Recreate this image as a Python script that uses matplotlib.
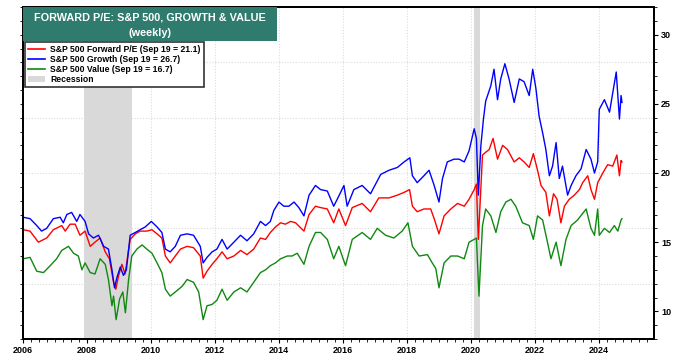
import matplotlib
matplotlib.use("Agg")
import matplotlib.pyplot as plt
from matplotlib.patches import Patch
from matplotlib.lines import Line2D
from matplotlib.ticker import MultipleLocator

plt.rcParams["font.family"] = ["Liberation Sans", "DejaVu Sans"]

sp_dates = [2006.01, 2006.22, 2006.48, 2006.74, 2006.95, 2007.21, 2007.32, 2007.47, 2007.63,
            2007.78, 2007.94, 2008.10, 2008.25, 2008.41, 2008.57, 2008.70, 2008.83, 2008.90,
            2008.99, 2009.09, 2009.19, 2009.35, 2009.51, 2009.66, 2009.87, 2010.03, 2010.19,
            2010.34, 2010.45, 2010.60, 2010.76, 2010.92, 2011.13, 2011.33, 2011.54, 2011.63,
            2011.75, 2011.91, 2012.06, 2012.22, 2012.38, 2012.59, 2012.80, 2013.00, 2013.21,
            2013.42, 2013.58, 2013.73, 2013.89, 2014.05, 2014.20, 2014.36, 2014.52, 2014.78,
            2014.94, 2015.14, 2015.30, 2015.51, 2015.71, 2015.87, 2016.08, 2016.29, 2016.60,
            2016.86, 2017.12, 2017.44, 2017.70, 2017.91, 2018.08, 2018.17, 2018.32, 2018.53,
            2018.74, 2018.85, 2019.00, 2019.16, 2019.37, 2019.58, 2019.79, 2019.94, 2020.10,
            2020.17, 2020.23, 2020.36, 2020.46, 2020.57, 2020.69, 2020.83, 2020.99, 2021.14,
            2021.35, 2021.51, 2021.66, 2021.82, 2021.95, 2022.08, 2022.19, 2022.34, 2022.45,
            2022.58, 2022.69, 2022.81, 2022.92, 2023.07, 2023.23, 2023.39, 2023.49, 2023.65,
            2023.75, 2023.86, 2023.96, 2024.12, 2024.27, 2024.43, 2024.56, 2024.64, 2024.69,
            2024.72]
sp_pe = [15.9, 15.8, 15.0, 15.3, 15.9, 16.2, 15.8, 16.3, 16.3,
         15.5, 15.8, 14.7, 15.0, 15.3, 14.3, 13.8, 12.1, 11.6,
         12.6, 13.4, 12.7, 15.2, 15.6, 15.8, 15.8, 15.9, 15.6,
         15.3, 14.0, 13.5, 14.0, 14.5, 14.7, 14.6, 14.0, 12.4,
         12.9, 13.4, 13.8, 14.3, 13.8, 14.0, 14.4, 14.1, 14.5,
         15.3, 15.2, 15.7, 16.1, 16.4, 16.3, 16.5, 16.4, 15.8,
         17.0, 17.6, 17.5, 17.4, 16.4, 17.4, 16.2, 17.5, 17.8,
         17.2, 18.2, 18.2, 18.4, 18.6, 18.8, 17.6, 17.2, 17.4,
         17.4, 16.7, 15.6, 16.9, 17.4, 17.8, 17.6, 18.1, 18.8,
         19.2, 15.2, 21.3, 21.5, 21.7, 22.5, 21.0, 22.0, 21.7,
         20.8, 21.1, 20.8, 20.4, 21.4, 20.2, 19.1, 18.6, 16.9,
         18.5, 18.1, 16.4, 17.6, 18.1, 18.4, 18.8, 19.3, 19.8,
         18.8, 18.1, 19.3, 20.0, 20.6, 20.5, 21.3, 19.8, 20.9,
         20.8]

growth_dates = [2006.01, 2006.22, 2006.43, 2006.58, 2006.74, 2006.95, 2007.16, 2007.26, 2007.37,
                2007.52, 2007.68, 2007.78, 2007.94, 2008.05, 2008.20, 2008.36, 2008.52, 2008.67,
                2008.78, 2008.86, 2008.93, 2009.04, 2009.14, 2009.23, 2009.35, 2009.51, 2009.66,
                2009.82, 2010.01, 2010.19, 2010.34, 2010.45, 2010.60, 2010.76, 2010.92, 2011.13,
                2011.33, 2011.54, 2011.63, 2011.75, 2011.91, 2012.06, 2012.22, 2012.38, 2012.59,
                2012.80, 2013.00, 2013.21, 2013.42, 2013.58, 2013.73, 2013.84, 2014.00, 2014.15,
                2014.31, 2014.47, 2014.62, 2014.78, 2014.94, 2015.14, 2015.30, 2015.51, 2015.71,
                2015.82, 2016.03, 2016.13, 2016.34, 2016.60, 2016.86, 2017.18, 2017.44, 2017.70,
                2017.91, 2018.09, 2018.17, 2018.32, 2018.53, 2018.69, 2018.85, 2019.00, 2019.11,
                2019.26, 2019.47, 2019.63, 2019.79, 2019.94, 2020.10, 2020.17, 2020.23, 2020.31,
                2020.39, 2020.46, 2020.62, 2020.72, 2020.83, 2020.93, 2021.06, 2021.19, 2021.35,
                2021.51, 2021.66, 2021.82, 2021.93, 2022.03, 2022.13, 2022.24, 2022.34, 2022.45,
                2022.55, 2022.66, 2022.76, 2022.86, 2023.02, 2023.13, 2023.28, 2023.44, 2023.60,
                2023.75, 2023.86, 2023.96, 2024.01, 2024.17, 2024.33, 2024.43, 2024.54, 2024.64,
                2024.69, 2024.72]
growth_pe = [16.8, 16.7, 16.2, 15.8, 16.0, 16.7, 16.8, 16.4, 17.0,
             17.15, 16.5, 17.0, 16.5, 15.6, 15.3, 15.5, 14.7, 14.5,
             13.0, 11.7, 12.4, 13.2, 12.6, 13.0, 15.5, 15.7, 15.9,
             16.1, 16.5, 16.1, 15.7, 14.5, 14.3, 14.7, 15.5, 15.6,
             15.5, 14.7, 13.5, 13.9, 14.3, 14.5, 15.2, 14.5, 15.0,
             15.5, 15.1, 15.6, 16.5, 16.2, 16.5, 17.3, 17.9, 17.6,
             17.6, 17.9, 17.5, 16.9, 18.4, 19.1, 18.8, 18.7, 17.6,
             18.1, 19.1, 17.6, 18.8, 19.1, 18.5, 19.9, 20.2, 20.4,
             20.8, 21.1, 19.8, 19.3, 19.8, 20.2, 19.1, 17.9, 19.6,
             20.8, 21.0, 21.0, 20.8, 21.6, 23.2, 22.5, 18.4, 22.0,
             23.9, 25.2, 26.3, 27.5, 25.3, 26.8, 27.9, 26.8, 25.1,
             26.8, 26.6, 25.6, 27.5, 26.1, 24.1, 22.9, 21.7, 19.8,
             20.5, 22.2, 19.6, 20.5, 18.4, 19.1, 19.8, 20.3, 21.7,
             21.0, 20.0, 20.8, 24.6, 25.3, 24.4, 25.8, 27.3, 23.9,
             25.6, 25.1]

value_dates = [2006.01, 2006.22, 2006.43, 2006.64, 2006.85, 2007.05, 2007.21, 2007.42, 2007.58,
               2007.73, 2007.84, 2007.94, 2008.10, 2008.25, 2008.41, 2008.57, 2008.67, 2008.78,
               2008.83, 2008.91, 2009.02, 2009.12, 2009.20, 2009.30, 2009.40, 2009.56, 2009.72,
               2009.87, 2010.03, 2010.19, 2010.34, 2010.45, 2010.60, 2010.76, 2010.97, 2011.13,
               2011.33, 2011.49, 2011.63, 2011.75, 2011.91, 2012.06, 2012.22, 2012.38, 2012.59,
               2012.80, 2013.00, 2013.21, 2013.42, 2013.58, 2013.73, 2013.89, 2014.05, 2014.26,
               2014.41, 2014.57, 2014.78, 2014.94, 2015.14, 2015.30, 2015.51, 2015.71, 2015.87,
               2016.08, 2016.29, 2016.60, 2016.86, 2017.07, 2017.33, 2017.59, 2017.85, 2018.03,
               2018.17, 2018.38, 2018.64, 2018.79, 2018.90, 2019.00, 2019.16, 2019.37, 2019.58,
               2019.79, 2019.94, 2020.10, 2020.17, 2020.25, 2020.36, 2020.46, 2020.62, 2020.78,
               2020.93, 2021.09, 2021.25, 2021.40, 2021.61, 2021.82, 2021.95, 2022.08, 2022.24,
               2022.39, 2022.50, 2022.66, 2022.81, 2022.97, 2023.13, 2023.33, 2023.60, 2023.75,
               2023.86, 2023.96, 2024.01, 2024.17, 2024.33, 2024.48, 2024.59, 2024.69, 2024.72]
value_pe = [13.8, 13.9, 12.9, 12.8, 13.3, 13.8, 14.4, 14.7, 14.2,
            14.0, 13.0, 13.5, 12.8, 12.7, 13.8, 13.4, 12.3, 10.4,
            11.1, 9.4, 10.9, 11.4, 9.9, 12.3, 14.0, 14.5, 14.8,
            14.5, 14.2, 13.5, 12.8, 11.6, 11.1, 11.4, 11.8, 12.3,
            12.1, 11.4, 9.4, 10.4, 10.5, 10.8, 11.6, 10.8, 11.4,
            11.7, 11.4, 12.1, 12.8, 13.0, 13.3, 13.5, 13.8, 14.0,
            14.0, 14.2, 13.4, 14.7, 15.7, 15.7, 15.2, 13.8, 14.7,
            13.3, 15.2, 15.7, 15.2, 16.0, 15.5, 15.3, 15.8, 16.4,
            14.7, 14.0, 14.1, 13.5, 13.1, 11.7, 13.5, 14.0, 14.0,
            13.8, 15.0, 15.2, 15.3, 11.1, 16.2, 17.4, 16.9, 15.7,
            17.2, 17.9, 18.1, 17.6, 16.4, 16.2, 15.2, 16.9, 16.6,
            15.0, 13.8, 15.0, 13.3, 15.2, 16.2, 16.6, 17.4, 16.0,
            15.5, 17.4, 15.5, 16.0, 15.7, 16.2, 15.8, 16.6, 16.7]

recessions = [(2007.92, 2009.42), (2020.10, 2020.29)]
labels = ["S&P 500 Forward P/E (Sep 19 = 21.1)",
          "S&P 500 Growth (Sep 19 = 26.7)",
          "S&P 500 Value (Sep 19 = 16.7)",
          "Recession"]
colors = ["#ff0000", "#0000ff", "#118811"]

fig = plt.figure(figsize=(6.73, 3.56), dpi=100)
ax = fig.add_axes([23 / 673, 17 / 356, 631 / 673, 332 / 356])

for start, end in recessions:
    ax.axvspan(start, end, color="#d9d9d9", lw=0, zorder=1)

ax.plot(value_dates, value_pe, color=colors[2], lw=1.0, zorder=3)
ax.plot(sp_dates, sp_pe, color=colors[0], lw=1.0, zorder=4)
ax.plot(growth_dates, growth_pe, color=colors[1], lw=1.0, zorder=5)

ax.set_xlim(2006, 2025.72)
ax.set_ylim(8, 32)

ax.xaxis.set_major_locator(MultipleLocator(2))
ax.xaxis.set_minor_locator(MultipleLocator(0.25))
ax.set_xticks(range(2006, 2026, 2))
ax.set_xticklabels([str(y) for y in range(2006, 2026, 2)], fontsize=6.5, fontweight="bold")
ax.tick_params(axis="x", which="major", length=3, width=0.8, pad=2)
ax.tick_params(axis="x", which="minor", length=2, width=0.6)

# grid on the left axis (every 4), labels on the right axis (every 5)
ax.yaxis.set_major_locator(MultipleLocator(4))
ax.yaxis.set_minor_locator(MultipleLocator(1))
ax.tick_params(axis="y", which="both", labelleft=False, length=2, width=0.6)
ax.grid(True, which="major", color="#dcdcdc", lw=0.8, ls=(0, (1, 1.5)), zorder=0)

ax2 = ax.twinx()
ax2.set_ylim(ax.get_ylim())
ax2.yaxis.set_major_locator(MultipleLocator(5))
ax2.yaxis.set_minor_locator(MultipleLocator(1))
ax2.tick_params(axis="y", which="major", length=3, width=0.8, pad=2, labelsize=6.5)
ax2.tick_params(axis="y", which="minor", length=2, width=0.6)
for t in ax2.get_yticklabels():
    t.set_fontweight("bold")

for a in (ax, ax2):
    for s in a.spines.values():
        s.set_linewidth(1.4)
        s.set_color("black")

# title box
fig.patches.append(plt.Rectangle((23 / 673, 1 - 41 / 356), 254 / 673, 34 / 356,
                                 transform=fig.transFigure, facecolor="#2f7b6d",
                                 edgecolor="none", zorder=10))
fig.text(150 / 673, 1 - 18 / 356, "FORWARD P/E: S&P 500, GROWTH & VALUE", color="white",
         fontsize=7.8, fontweight="bold", ha="center", va="center", zorder=11)
fig.text(150 / 673, 1 - 33 / 356, "(weekly)", color="white",
         fontsize=7.8, fontweight="bold", ha="center", va="center", zorder=11)

handles = [Line2D([], [], color=c, lw=1.2) for c in colors]
handles.append(Patch(facecolor="#d9d9d9", edgecolor="none"))
leg = ax2.legend(handles, labels, loc="upper left", bbox_to_anchor=(25 / 673, 1 - 42 / 356),
                 bbox_transform=fig.transFigure, prop={"size": 6.2, "weight": "bold"},
                 frameon=True, fancybox=False, edgecolor="#333333", framealpha=1,
                 borderpad=0.35, labelspacing=0.1, handlelength=2.0, handletextpad=0.6,
                 borderaxespad=0)
leg.get_frame().set_linewidth(1.2)

fig.savefig("out.png", dpi=100)
